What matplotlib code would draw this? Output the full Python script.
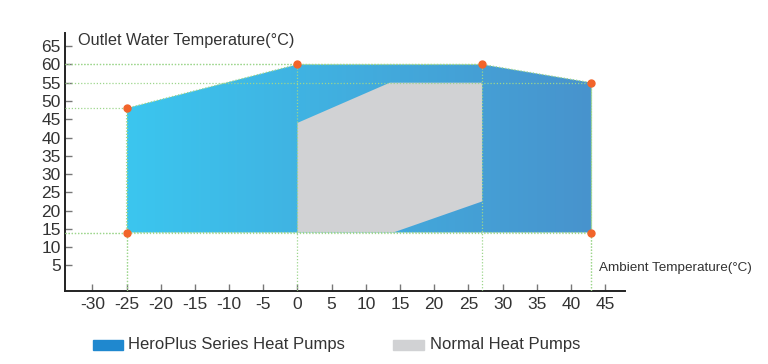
import numpy as np
import matplotlib.pyplot as plt
from matplotlib.patches import Polygon, Rectangle
from matplotlib.colors import LinearSegmentedColormap

plt.rcParams['font.family'] = ['Liberation Sans', 'DejaVu Sans']
plt.rcParams['axes.unicode_minus'] = False

# operating envelope corners (ambient degC, outlet degC)
hero_x = [-25, 0, 27, 43, 43, -25]
hero_y = [48, 60, 60, 55, 14, 14]
normal_x = [0, 0, 13.5, 27, 27, 14]
normal_y = [14, 44, 55, 55, 22.5, 14]

x_ticks = [-30, -25, -20, -15, -10, -5, 0, 5, 10, 15, 20, 25, 30, 35, 40, 45]
y_ticks = [5, 10, 15, 20, 25, 30, 35, 40, 45, 50, 55, 60, 65]

guide = "#9dd68c"
orange = "#f2642a"
grey = "#d1d2d4"

fig = plt.figure(figsize=(7.68, 3.64), dpi=100)
ax = fig.add_axes([65 / 768, 1 - 291 / 364, 560 / 768, 258 / 364])
ax.set_xlim(-34, 47.9)
ax.set_ylim(-2, 68.6)

# blue envelope with left-to-right gradient
hero = Polygon(np.column_stack([hero_x, hero_y]), closed=True,
               facecolor="none", edgecolor="none")
ax.add_patch(hero)
cmap = LinearSegmentedColormap.from_list("hero", ["#3bc6ef", "#4893cd"])
grad = np.linspace(0, 1, 256).reshape(1, -1)
im = ax.imshow(grad, cmap=cmap, aspect="auto",
               extent=[min(hero_x), max(hero_x), min(hero_y), max(hero_y)],
               zorder=1)
im.set_clip_path(hero)

# normal heat pump envelope
ax.add_patch(Polygon(np.column_stack([normal_x, normal_y]), closed=True,
                     facecolor=grey, edgecolor="none", zorder=2))

# outline + guide lines
dots = (0, (1, 1.5))
ax.plot(hero_x + hero_x[:1], hero_y + hero_y[:1], color=guide, lw=0.9,
        ls=dots, zorder=3)
x0 = ax.get_xlim()[0]
y0 = ax.get_ylim()[0]
for px, py in zip(hero_x, hero_y):
    ax.plot([x0, px], [py, py], color=guide, lw=0.9, ls=dots, zorder=3)
    ax.plot([px, px], [y0, py], color=guide, lw=0.9, ls=dots, zorder=3)

ax.plot(hero_x, hero_y, ls="none", marker="o", ms=5, color=orange,
        zorder=4, clip_on=False)

# axes styling
for s in ["top", "right"]:
    ax.spines[s].set_visible(False)
for s in ["left", "bottom"]:
    ax.spines[s].set_linewidth(1.4)
    ax.spines[s].set_color("#222222")
ax.set_xticks(x_ticks)
ax.set_yticks(y_ticks)
ax.tick_params(axis="both", direction="in", length=5, width=1,
               color="#777777", labelsize=12.5, labelcolor="#333333")
ax.tick_params(axis="x", pad=4)
ax.tick_params(axis="y", pad=3)

fig.text(78 / 768, 1 - 40.5 / 364, "Outlet Water Temperature(°C)",
         fontsize=11.7, color="#333333", va="center", ha="left")
fig.text(599 / 768, 1 - 268 / 364, "Ambient Temperature(°C)",
         fontsize=9.7, color="#333333", va="center", ha="left")

# legend
fig.patches.append(Rectangle((93 / 768, 1 - 350 / 364), 30 / 768, 10 / 364,
                             transform=fig.transFigure, color="#1f88cf"))
fig.text(128 / 768, 1 - 344 / 364, "HeroPlus Series Heat Pumps",
         fontsize=12, color="#333333", va="center", ha="left")
fig.patches.append(Rectangle((393 / 768, 1 - 350 / 364), 31 / 768, 10 / 364,
                             transform=fig.transFigure, color=grey))
fig.text(430 / 768, 1 - 344 / 364, "Normal Heat Pumps",
         fontsize=12, color="#333333", va="center", ha="left")

fig.savefig("out.png", dpi=100)
